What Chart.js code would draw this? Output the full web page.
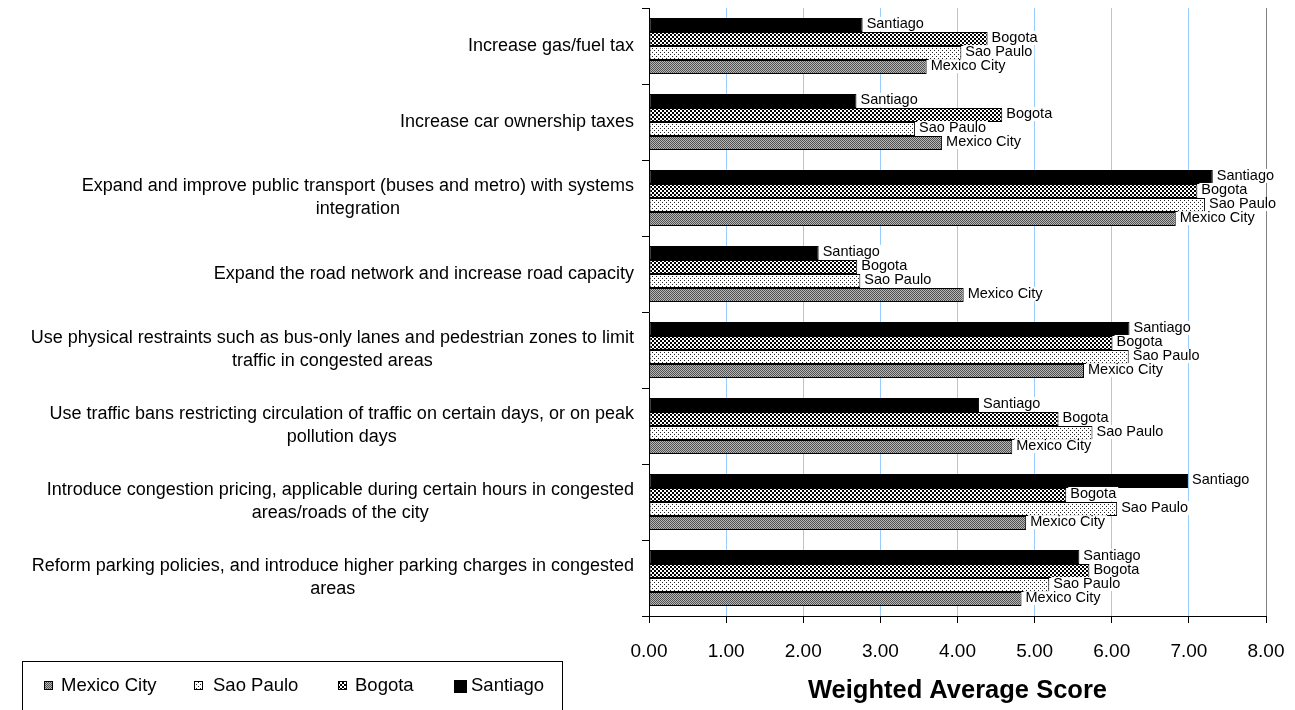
<!DOCTYPE html>
<html>
<head>
<meta charset="utf-8">
<script src="https://cdn.jsdelivr.net/npm/chart.js@4.4.0/dist/chart.umd.min.js"></script>
<style>
  body { margin: 0; background: #fff; }
</style>
</head>
<body>
<canvas id="policyChart" width="1295" height="710"></canvas>
<script>
const categories = [
    ['Increase gas/fuel tax'],
    ['Increase car ownership taxes'],
    ['Expand and improve public transport (buses and metro) with systems', 'integration'],
    ['Expand the road network and increase road capacity'],
    ['Use physical restraints such as bus-only lanes and pedestrian zones to limit', 'traffic in congested areas'],
    ['Use traffic bans restricting circulation of traffic on certain days, or on peak', 'pollution days'],
    ['Introduce congestion pricing, applicable during certain hours in congested', 'areas/roads of the city'],
    ['Reform parking policies, and introduce higher parking charges in congested', 'areas']
];

const mexicoCity = [3.60, 3.80, 6.83, 4.08, 5.64, 4.71, 4.89, 4.83];
const saoPaulo   = [4.05, 3.45, 7.21, 2.74, 6.22, 5.75, 6.07, 5.19];
const bogota     = [4.39, 4.58, 7.11, 2.70, 6.01, 5.31, 5.41, 5.71];
const santiago   = [2.77, 2.69, 7.31, 2.20, 6.23, 4.28, 6.99, 5.58];

const xTickLabels = ['0.00', '1.00', '2.00', '3.00', '4.00', '5.00', '6.00', '7.00', '8.00'];

const FONT = '"Liberation Sans", Arial, sans-serif';

// small repeating fills like the excel patterns
function makePattern(size, paint) {
    const c = document.createElement('canvas');
    c.width = size;
    c.height = size;
    const g = c.getContext('2d');
    paint(g);
    return g.createPattern(c, 'repeat');
}

const grayPattern = makePattern(2, g => {
    g.fillStyle = '#b8b8b8';
    g.fillRect(0, 0, 2, 2);
    g.fillStyle = '#505050';
    g.fillRect(0, 0, 1, 1);
    g.fillRect(1, 1, 1, 1);
});

const dotPattern = makePattern(4, g => {
    g.fillStyle = '#fff';
    g.fillRect(0, 0, 4, 4);
    g.fillStyle = '#222';
    g.fillRect(0, 0, 1, 1);
    g.fillRect(2, 2, 1, 1);
});

const checkPattern = makePattern(4, g => {
    g.fillStyle = '#fff';
    g.fillRect(0, 0, 4, 4);
    g.fillStyle = '#000';
    g.fillRect(0, 0, 2, 2);
    g.fillRect(2, 2, 2, 2);
});

// labels on the left: lines centered, block right aligned
const categoryLabels = {
    id: 'categoryLabels',
    afterDraw(chart) {
        const yScale = chart.scales.y;
        const c = chart.ctx;
        c.save();
        c.font = '18px ' + FONT;
        c.fillStyle = '#000';
        c.textAlign = 'center';
        c.textBaseline = 'middle';
        categories.forEach((lines, i) => {
            const w = Math.max(...lines.map(l => c.measureText(l).width));
            const cx = yScale.right - 15 - w / 2;
            const cy = yScale.getPixelForTick(i);
            lines.forEach((l, j) => {
                c.fillText(l, cx, cy + (j - (lines.length - 1) / 2) * 23);
            });
        });
        c.restore();
    }
};

// series name at the end of every bar
const barNames = {
    id: 'barNames',
    afterDatasetsDraw(chart) {
        const c = chart.ctx;
        c.save();
        c.font = '14.5px ' + FONT;
        c.textAlign = 'left';
        c.textBaseline = 'middle';
        chart.data.datasets.forEach((ds, di) => {
            const w = c.measureText(ds.label).width;
            chart.getDatasetMeta(di).data.forEach(bar => {
                c.fillStyle = '#fff';
                c.fillRect(bar.x + 2, bar.y - 8, w + 4, 14);
                c.fillStyle = '#000';
                c.fillText(ds.label, bar.x + 4, bar.y - 1);
            });
        });
        c.restore();
    }
};

// boxed legend in the bottom left corner
const boxLegend = {
    id: 'boxLegend',
    afterDraw(chart) {
        const c = chart.ctx;
        const items = chart.data.datasets.slice().reverse();
        const swatchX = [44, 194, 338, 454];
        const textX = [61, 213, 355, 471];
        c.save();
        c.strokeStyle = '#000';
        c.lineWidth = 1;
        c.strokeRect(22.5, 661.5, 540, 60);
        c.font = '18.5px ' + FONT;
        c.textBaseline = 'middle';
        items.forEach((ds, i) => {
            const big = ds.label === 'Santiago';
            const s = big ? 13 : 9;
            const sy = big ? 680 : 681;
            c.fillStyle = ds.backgroundColor;
            c.fillRect(swatchX[i], sy, s, s);
            if (!big) {
                c.strokeStyle = '#000';
                c.strokeRect(swatchX[i] + 0.5, sy + 0.5, s - 1, s - 1);
            }
            c.fillStyle = '#000';
            c.fillText(ds.label, textX[i], 686);
        });
        c.restore();
    }
};

const ctx = document.getElementById('policyChart').getContext('2d');

const policyChart = new Chart(ctx, {
    type: 'bar',
    data: {
        labels: categories,
        datasets: [
            { label: 'Santiago', data: santiago, backgroundColor: '#000' },
            { label: 'Bogota', data: bogota, backgroundColor: checkPattern },
            { label: 'Sao Paulo', data: saoPaulo, backgroundColor: dotPattern },
            { label: 'Mexico City', data: mexicoCity, backgroundColor: grayPattern }
        ]
    },
    options: {
        indexAxis: 'y',
        responsive: false,
        animation: false,
        layout: {
            padding: { top: 8, right: 29, left: 0, bottom: 0 }
        },
        datasets: {
            bar: {
                barPercentage: 1,
                categoryPercentage: 0.74,
                borderColor: '#000',
                borderWidth: 1,
                borderSkipped: false
            }
        },
        plugins: {
            legend: { display: false },
            tooltip: { enabled: false }
        },
        scales: {
            x: {
                min: 0,
                max: 8,
                afterFit(scale) {
                    scale.height = 94;
                    scale.paddingLeft = 0;
                    scale.paddingRight = 0;
                },
                ticks: {
                    stepSize: 1,
                    padding: 17,
                    color: '#000',
                    font: { family: FONT, size: 19 },
                    callback: (v, i) => xTickLabels[i]
                },
                grid: {
                    color: c => c.tick && c.tick.value === 8 ? '#808080' : (c.tick && c.tick.value === 0 ? 'rgba(0,0,0,0)' : '#99ccff'),
                    tickColor: '#000',
                    tickLength: 7
                },
                border: { color: '#000' },
                title: {
                    display: true,
                    text: 'Weighted Average Score',
                    color: '#000',
                    font: { family: FONT, size: 25.5, weight: 'bold' },
                    padding: { top: 0, bottom: 4 }
                }
            },
            y: {
                afterFit(scale) {
                    scale.width = 649;
                    scale.paddingTop = 0;
                    scale.paddingBottom = 0;
                },
                ticks: { display: false },
                grid: {
                    drawOnChartArea: false,
                    tickColor: '#000',
                    tickLength: 7
                },
                border: { color: '#000' }
            }
        }
    },
    plugins: [categoryLabels, barNames, boxLegend]
});
</script>
</body>
</html>
